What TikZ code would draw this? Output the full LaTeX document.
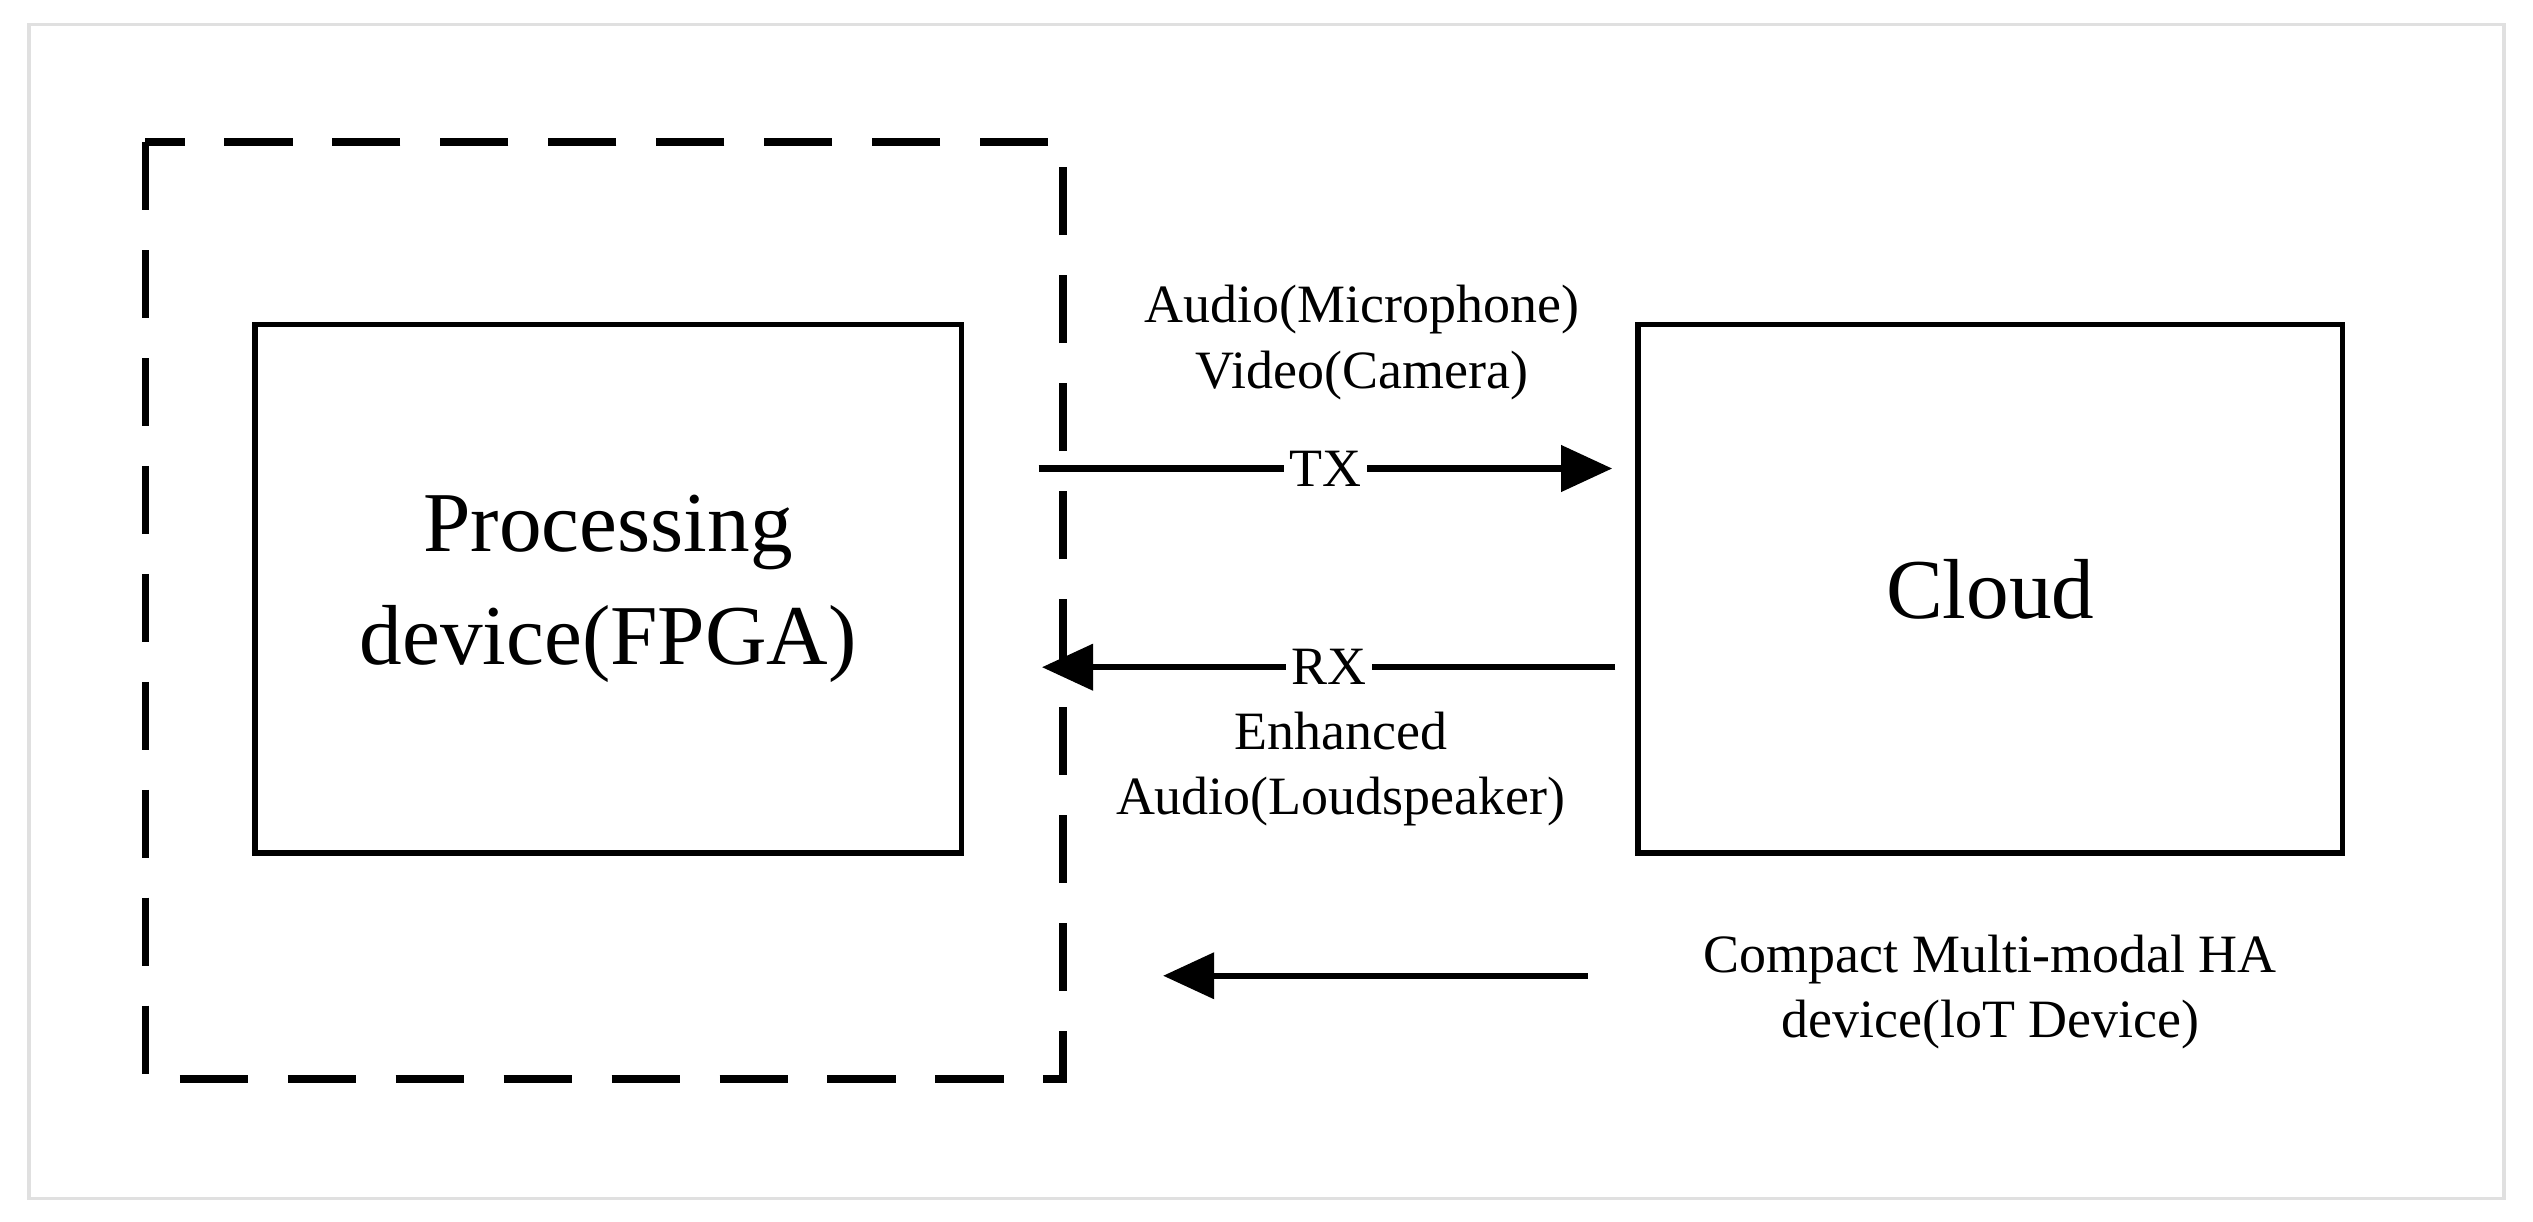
\documentclass[tikz,border=0pt]{standalone}
\usepackage{fontspec}
\setmainfont{Liberation Serif}
\usetikzlibrary{arrows.meta}
\begin{document}
\begin{tikzpicture}[x=0.01cm,y=-0.01cm,
 box/.style={draw,line width=1pt},
 arr/.style={line width=1.1pt,-{Triangle[length=9pt,width=8pt]}},
 lab/.style={font=\fontsize{9.5}{11.5}\selectfont,align=center,inner sep=1pt},
 big/.style={font=\fontsize{15}{20}\selectfont,align=center}]
\useasboundingbox (0,0) rectangle (1568,756);
\draw[black!12,line width=0.6pt] (18,15) rectangle (1550,742);
\draw[line width=1.3pt,dash pattern=on 12pt off 7pt] (90,88) rectangle (658,668);
\node[box,minimum width=4.37cm,minimum height=3.27cm,big] (fpga) at (376.5,364.5) {Processing\\device(FPGA)};
\node[box,minimum width=4.36cm,minimum height=3.27cm,big] (cloud) at (1232,364.5) {Cloud};
\coordinate (t1) at (643,290); \coordinate (t2) at (998,290);
\coordinate (r1) at (1000,413); \coordinate (r2) at (645,413);
\coordinate (b1) at (983,604); \coordinate (b2) at (720,604);
\draw[arr] (t1) -- node[lab,fill=white] (tx) {TX} (t2);
\draw[arr] (r1) -- node[lab,fill=white] (rx) {RX} (r2);
\draw[arr] (b1) -- (b2);
\node[lab] (av) at (843,212) {Audio(Microphone)\\Video(Camera)};
\node[lab] (ea) at (830,476) {Enhanced\\Audio(Loudspeaker)};
\node[lab] (ha) at (1232,614) {Compact Multi-modal HA\\device(loT Device)};
\end{tikzpicture}
\end{document}
